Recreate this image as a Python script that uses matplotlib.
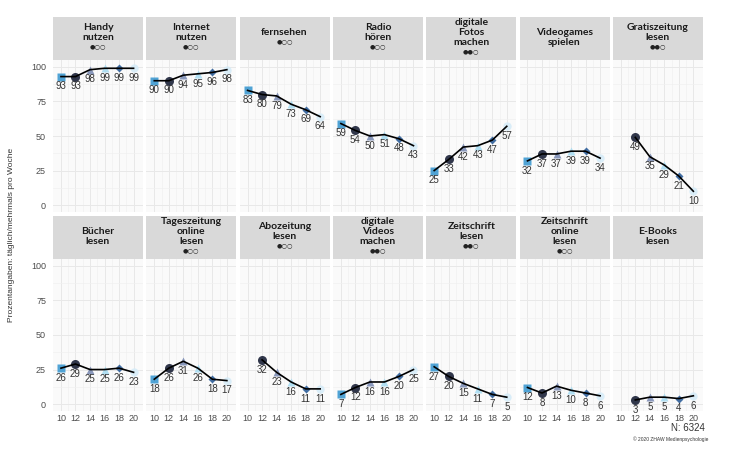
import numpy as np
import matplotlib
matplotlib.use("Agg")
import matplotlib.pyplot as plt

# data
ages = [10, 12, 14, 16, 18, 20]
titles = ["Handy\nnutzen", "Internet\nnutzen", "fernsehen", "Radio\nhören",
          "digitale\nFotos\nmachen", "Videogames\nspielen", "Gratiszeitung\nlesen",
          "Bücher\nlesen", "Tageszeitung\nonline\nlesen", "Abozeitung\nlesen",
          "digitale\nVideos\nmachen", "Zeitschrift\nlesen", "Zeitschrift\nonline\nlesen",
          "E-Books\nlesen"]
dots = ["●○○", "●○○", "●○○", "●○○", "●●○", "", "●●○",
        "", "●○○", "●○○", "●●○", "●●○", "●○○", ""]
values = [
    [93, 93, 98, 99, 99, 99],
    [90, 90, 94, 95, 96, 98],
    [83, 80, 79, 73, 69, 64],
    [59, 54, 50, 51, 48, 43],
    [25, 33, 42, 43, 47, 57],
    [32, 37, 37, 39, 39, 34],
    [np.nan, 49, 35, 29, 21, 10],
    [26, 29, 25, 25, 26, 23],
    [18, 26, 31, 26, 18, 17],
    [np.nan, 32, 23, 16, 11, 11],
    [7, 12, 16, 16, 20, 25],
    [27, 20, 15, 11, 7, 5],
    [12, 8, 13, 10, 8, 6],
    [np.nan, 3, 5, 5, 4, 6],
]

markers = ["s", "o", "^", "^", "D", "o"]
mcolors = ["#3d9ad1", "#1b2238", "#7d8db5", "#a9dcf2", "#2e5f9a", "#d6ecf8"]
msizes = [5.5, 6.5, 6, 6, 4.5, 6]

W, H = 730, 454
fig = plt.figure(figsize=(W / 100, H / 100), dpi=100)
fig.patch.set_facecolor("white")

def box(x0, y0, w, h):
    return [x0 / W, 1 - (y0 + h) / H, w / W, h / H]

tickfont = "Liberation Sans"
for k in range(14):
    r, c = divmod(k, 7)
    x0 = 53 + c * 93.3
    sy = 17 if r == 0 else 216
    py = 60 if r == 0 else 259
    # strip
    sax = fig.add_axes(box(x0, sy, 90, 43))
    sax.set_facecolor("#d9d9d9")
    sax.set_xticks([]); sax.set_yticks([])
    for s in sax.spines.values():
        s.set_visible(False)
    lines = titles[k].split("\n")
    n = len(lines) + (1 if dots[k] else 0)
    step = 10 / 43
    start = 0.5 + (n - 1) * step / 2 + 0.02
    for i, ln in enumerate(lines):
        sax.text(0.5, start - i * step, ln, ha="center", va="center",
                 fontsize=7.5, fontweight="bold", family="Lato", color="#1a1a1a",
                 transform=sax.transAxes)
    if dots[k]:
        sax.text(0.5, start - len(lines) * step + 0.02, dots[k], ha="center",
                 va="center", fontsize=4.5, color="#222222", family="DejaVu Sans",
                 transform=sax.transAxes)

    ax = fig.add_axes(box(x0, py, 90, 152))
    ax.set_facecolor("#fafafa")
    ax.set_xlim(8.9, 21.3)
    ax.set_ylim(-5, 105)
    ax.set_xticks(ages)
    ax.set_xticks([11, 13, 15, 17, 19], minor=True)
    ax.set_yticks([0, 25, 50, 75, 100])
    ax.set_yticks([12.5, 37.5, 62.5, 87.5], minor=True)
    ax.grid(True, which="major", color="#e8e8e8", lw=0.7)
    ax.grid(True, which="minor", color="#f0f0f0", lw=0.5)
    ax.set_axisbelow(True)
    for s in ax.spines.values():
        s.set_visible(False)
    ax.tick_params(axis="x", length=0, labelsize=6.5, labelcolor="#4d4d4d", pad=2)
    ax.tick_params(axis="y", length=0, labelsize=6.5, labelcolor="#4d4d4d", pad=5)
    ax.tick_params(which="minor", length=0)
    if c != 0:
        ax.set_yticklabels([])
    if r == 0:
        ax.set_xticklabels([])
    for lab in ax.get_xticklabels() + ax.get_yticklabels():
        lab.set_family(tickfont)

    v = np.array(values[k], dtype=float)
    for i, a in enumerate(ages):
        if np.isnan(v[i]):
            continue
        ax.plot(a, v[i], marker=markers[i], ms=msizes[i], color=mcolors[i],
                alpha=0.9, mec="none", zorder=3)
        ax.annotate("%d" % v[i], (a, v[i]), xytext=(0, -7), textcoords="offset points",
                    ha="center", va="center", fontsize=7, color="#333333",
                    family=tickfont, zorder=5)
    ok = ~np.isnan(v)
    ax.plot(np.array(ages)[ok], v[ok], color="black", lw=1.2, zorder=4)

fig.text(12 / W, 1 - 235 / H, "Prozentangaben: täglich/mehrmals pro Woche", rotation=90,
         ha="center", va="center", fontsize=6, color="#333333", family=tickfont)
fig.text(688 / W, 1 - 428 / H, "N: 6324", ha="center", va="center", fontsize=7,
         color="#333333", family=tickfont)
fig.text(708 / W, 1 - 439 / H, "© 2020 ZHAW Medienpsychologie", ha="right", va="center",
         fontsize=3.5, color="#333333", family=tickfont)

fig.savefig("out.png", dpi=100)
